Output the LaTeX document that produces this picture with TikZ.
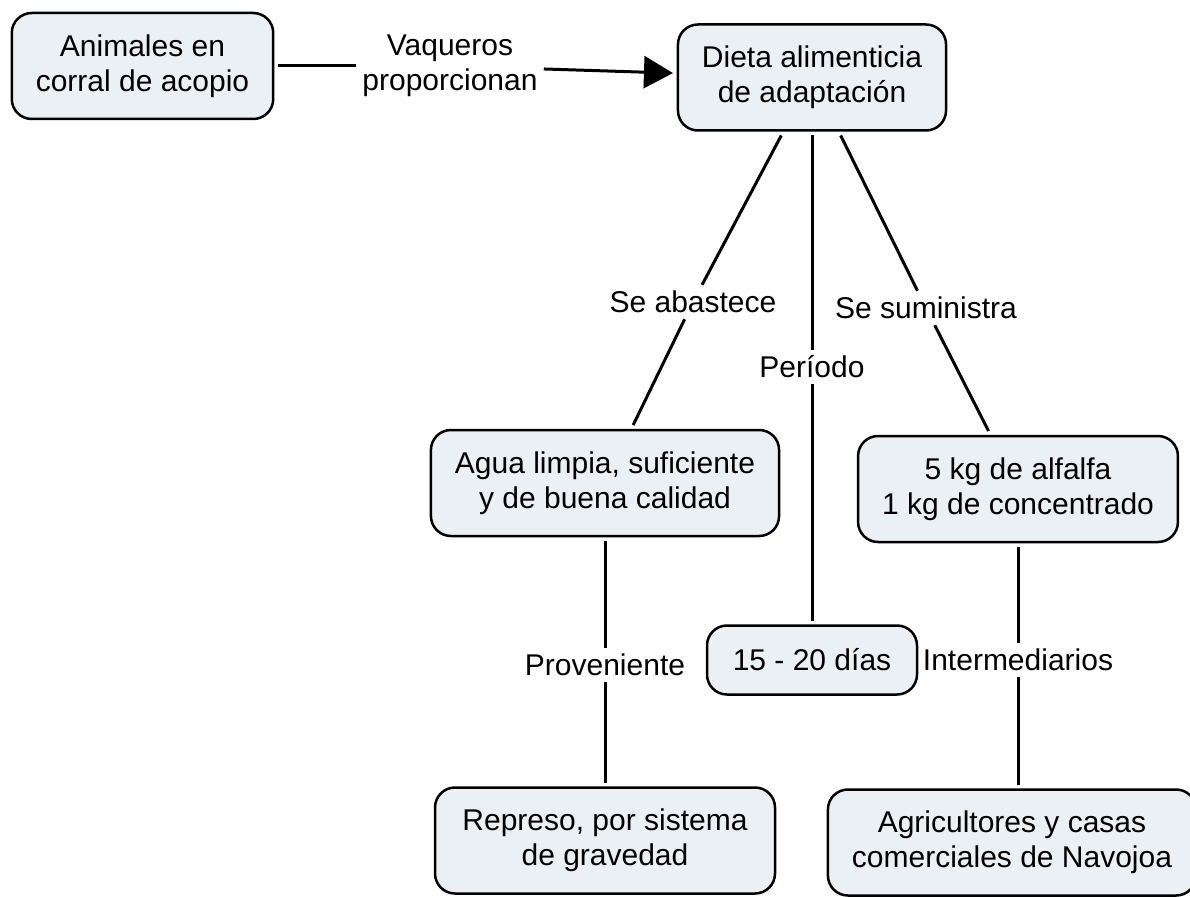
\documentclass[tikz,border=0pt]{standalone}
\usepackage{fontspec}
\setmainfont{Liberation Sans}
\usetikzlibrary{positioning,arrows.meta}

\definecolor{conceptfill}{HTML}{EAF0F3}

\begin{document}
\begin{tikzpicture}[x=1pt, y=1pt, node distance=100pt]
    \tikzstyle{concept}=[rectangle, rounded corners=20pt, draw=black, line width=2.5pt, fill=conceptfill, align=center, inner xsep=24pt, minimum height=106pt, outer sep=5pt, font=\fontsize{30pt}{35pt}\selectfont]
    \tikzstyle{linklabel}=[align=center, inner sep=6pt, font=\fontsize{30pt}{35pt}\selectfont]
    \tikzstyle{link}=[line width=3pt]
    \tikzstyle{arrow}=[link, -{Triangle[length=29pt, width=32pt]}]

    \useasboundingbox (0,0) rectangle (1190,-896);

    % Top row
    \node[concept] (corral) at (142.5,-66) {Animales en\\corral de acopio};
    \node[linklabel] (vaqueros) [right of=corral, xshift=207.5pt] {Vaqueros\\proporcionan};
    \node[concept] (dieta) [right of=vaqueros, xshift=262pt, yshift=-11.5pt] {Dieta alimenticia\\de adaptación};

    % Link labels under the diet
    \node[linklabel] (abastece) [below of=dieta, xshift=-119pt, yshift=-124.5pt] {Se abastece};
    \node[linklabel] (periodo) [below of=dieta, yshift=-189.5pt] {Período};
    \node[linklabel] (suministra) [below of=dieta, xshift=114pt, yshift=-130.5pt] {Se suministra};

    % Second level
    \node[concept] (agua) [below of=abastece, xshift=-88pt, yshift=-81pt] {Agua limpia, suficiente\\y de buena calidad};
    \node[concept] (alfalfa) [below of=suministra, xshift=92pt, yshift=-81pt] {5 kg de alfalfa\\1 kg de concentrado};
    \node[concept, minimum height=69pt, minimum width=210pt] (dias) [below of=periodo, yshift=-193pt] {15 - 20 días};

    % Third level
    \node[linklabel] (proveniente) [below of=agua, yshift=-82pt] {Proveniente};
    \node[linklabel] (intermediarios) [below of=alfalfa, yshift=-71pt] {Intermediarios};
    \node[concept, minimum width=340pt] (represo) [below of=proveniente, yshift=-75.5pt] {Represo, por sistema\\de gravedad};
    \node[concept, minimum width=356pt] (agricultores) [below of=intermediarios, xshift=-6pt, yshift=-82.5pt] {Agricultores y casas\\comerciales de Navojoa};

    % Connectors
    \draw[link] (corral) -- (vaqueros);
    \draw[arrow] (vaqueros) -- (dieta);
    \draw[link] (dieta) -- (abastece);
    \draw[link] (abastece) -- (agua);
    \draw[link] (dieta) -- (periodo);
    \draw[link] (periodo) -- (dias);
    \draw[link] (dieta) -- (suministra);
    \draw[link] (suministra) -- (alfalfa);
    \draw[link] (agua) -- (proveniente);
    \draw[link] (proveniente) -- (represo);
    \draw[link] (alfalfa) -- (intermediarios);
    \draw[link] (intermediarios) -- (intermediarios |- agricultores.north);
\end{tikzpicture}
\end{document}
